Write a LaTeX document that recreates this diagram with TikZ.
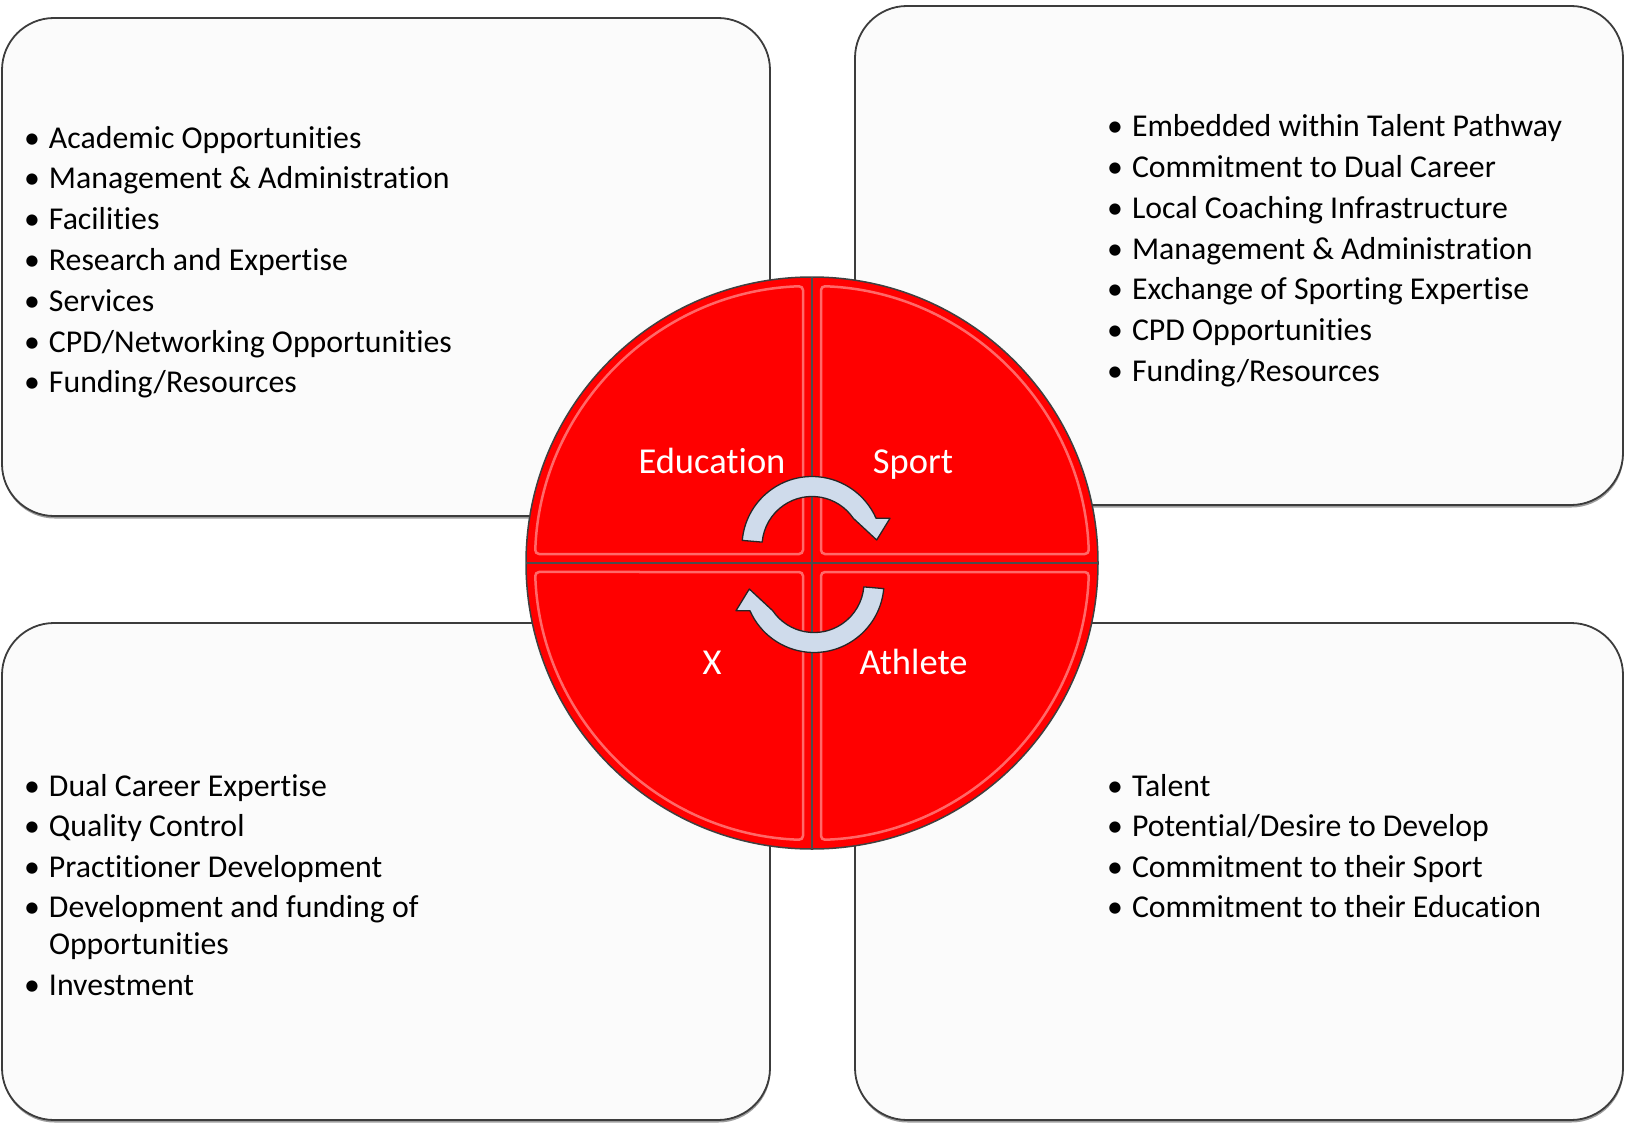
\documentclass[tikz,border=0pt]{standalone}
\usepackage{fontspec}
\setmainfont[Ligatures=NoCommon]{Carlito}
\usetikzlibrary{calc,shadows}
\definecolor{boxfill}{HTML}{FBFBFB}
\definecolor{boxline}{HTML}{3C3C3C}
\definecolor{discred}{HTML}{FF0000}
\definecolor{bevelpink}{HTML}{FF8C8C}
\definecolor{arrowfill}{HTML}{CFDBEB}
\newcommand\bul{\makebox[25pt][l]{•}}
\newcommand\cyclearrowshape{(812,546.5) ++(-175:70) arc[start angle=-175, end angle=-23.8, radius=70] -- (890,518.3) -- (876.7,540) -- (853.3,518.3) arc[start angle=-34.3, end angle=-175, radius=50] -- cycle}
\begin{document}
\begin{tikzpicture}[x=1pt,y=-1pt,
  panel/.style={draw=boxline, line width=1.8pt, fill=boxfill, rounded corners=52pt,
    inner sep=0pt, outer sep=0pt,
    drop shadow={shadow xshift=0.5pt, shadow yshift=-2.5pt, opacity=0.55, fill=black!70}},
  listitem/.style={anchor=base west, inner sep=0pt, outer sep=0pt,
    font=\fontsize{31.8}{38}\selectfont, text=black},
  disclabel/.style={anchor=base, inner sep=0pt, outer sep=0pt, text=white,
    font=\fontsize{36.5}{42}\selectfont},
  quadline/.style={draw=black!70, line width=1.5pt},
  bevel/.style={draw=bevelpink, line width=2.5pt, rounded corners=4pt, opacity=0.75},
  cyclearrow/.style={fill=arrowfill, draw=black!85, line width=1.3pt, line join=round}]
\useasboundingbox (0,0) rectangle (1626,1124);

% panels
\node[panel, minimum width=768pt, minimum height=498pt] (tlbox) at (386,267) {};
\node[panel, minimum width=768pt, minimum height=499pt] (trbox) at (1239,255.5) {};
\node[panel, minimum width=768pt, minimum height=497pt] (blbox) at (386,871.5) {};
\node[panel, minimum width=768pt, minimum height=497pt] (brbox) at (1239,871.5) {};

% top-left list
\foreach \txt [count=\i] in {Academic Opportunities, Management \& Administration, Facilities,
  Research and Expertise, Services, CPD/Networking Opportunities, Funding/Resources}
  \node[listitem] (tl\i) at (24,{148+40.8*(\i-1)}) {\bul\txt};

% top-right list
\foreach \txt [count=\i] in {Embedded within Talent Pathway, Commitment to Dual Career,
  Local Coaching Infrastructure, Management \& Administration, Exchange of Sporting Expertise,
  CPD Opportunities, Funding/Resources}
  \node[listitem] (tr\i) at (1107,{136.7+40.8*(\i-1)}) {\bul\txt};

% bottom-left list
\node[listitem] (bl1) at (24,796) {\bul Dual Career Expertise};
\node[listitem] (bl2) at (24,836.5) {\bul Quality Control};
\node[listitem] (bl3) at (24,877) {\bul Practitioner Development};
\node[listitem] (bl4) at (24,917.5) {\bul Development and funding of};
\node[listitem] (bl4b) at (49,954.3) {Opportunities};
\node[listitem] (bl5) at (24,995) {\bul Investment};

% bottom-right list
\foreach \txt [count=\i] in {Talent, Potential/Desire to Develop, Commitment to their Sport,
  Commitment to their Education}
  \node[listitem] (br\i) at (1107,{796+40.5*(\i-1)}) {\bul\txt};

% central disc
\node[circle, fill=discred, draw=black!75, line width=1.5pt, minimum size=572pt,
  inner sep=0pt, outer sep=0pt] (disc) at (812,563) {};
\foreach \a in {0,90,180,270}
  \draw[bevel, rotate around={\a:(812,563)}]
    (803,554) -- (535.15,554) arc[start angle=-178.14, end angle=-91.86, radius=277] -- cycle;
\draw[quadline] (disc.north) -- (disc.south);
\draw[quadline] (disc.west) -- (disc.east);

% cycle arrows
\draw[cyclearrow] \cyclearrowshape;
\begin{scope}[rotate around={180:(813,564.5)}]
  \draw[cyclearrow] \cyclearrowshape;
\end{scope}

% disc labels
\node[disclabel] (edu) at (712,473.5) {Education};
\node[disclabel] (sport) at (913,473.5) {Sport};
\node[disclabel] (xlab) at (712,674.5) {X};
\node[disclabel] (athlete) at (913.5,674.5) {Athlete};
\end{tikzpicture}
\end{document}
